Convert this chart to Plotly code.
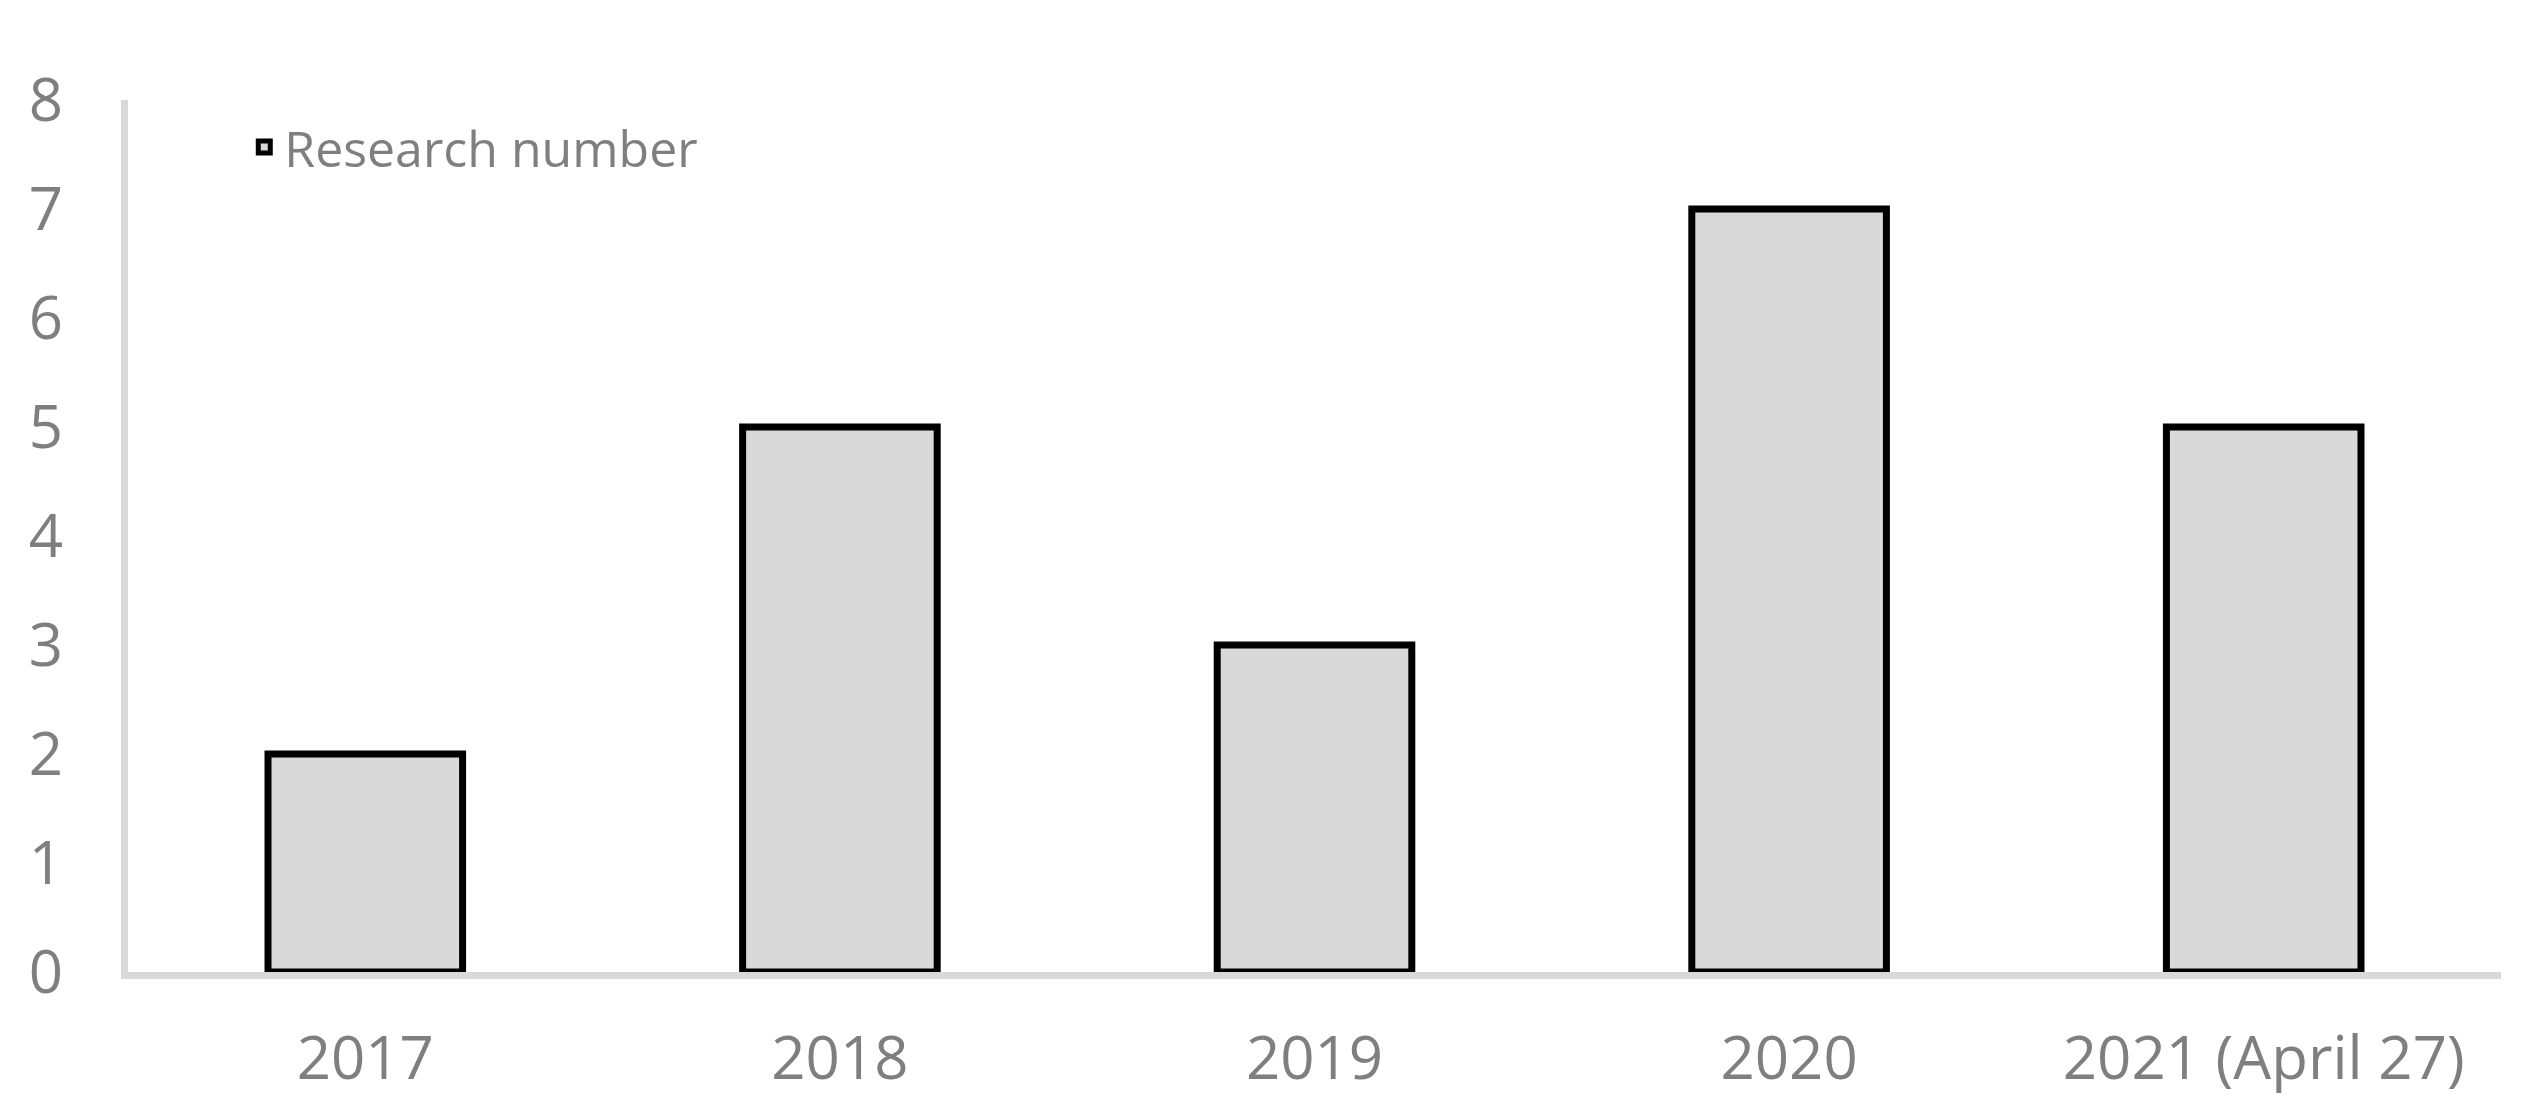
import plotly.graph_objects as go

categories = ["2017", "2018", "2019", "2020", "2021 (April 27)"]
research_number = [2, 5, 3, 7, 5]
y_ticks = [0, 1, 2, 3, 4, 5, 6, 7, 8]

fig = go.Figure()
fig.add_trace(go.Bar(
    x=categories,
    y=research_number,
    name="Research number",
    marker=dict(color="#d9d9d9", line=dict(color="#000000", width=7)),
))

fig.update_layout(
    width=2541,
    height=1118,
    margin=dict(l=120, r=48, t=92, b=154),
    paper_bgcolor="white",
    plot_bgcolor="white",
    bargap=0.59,
    font=dict(family="Open Sans, Noto Sans, sans-serif", color="#7f7f7f", size=60),
    showlegend=True,
    legend=dict(
        x=0.049, y=0.946, xanchor="left", yanchor="middle",
        font=dict(size=50, color="#7f7f7f"),
        bgcolor="rgba(0,0,0,0)",
    ),
)
fig.update_xaxes(
    showline=True, linecolor="#d9d9d9", linewidth=7,
    showgrid=False, zeroline=False, ticks="",
    tickfont=dict(size=60, color="#7f7f7f"),
    ticklabelstandoff=28,
)
fig.update_yaxes(
    range=[0, 8], tickvals=y_ticks,
    showline=True, linecolor="#d9d9d9", linewidth=7,
    showgrid=False, zeroline=False, ticks="",
    tickfont=dict(size=60, color="#7f7f7f"),
    ticklabelstandoff=46,
)

fig.write_html("out.html")
